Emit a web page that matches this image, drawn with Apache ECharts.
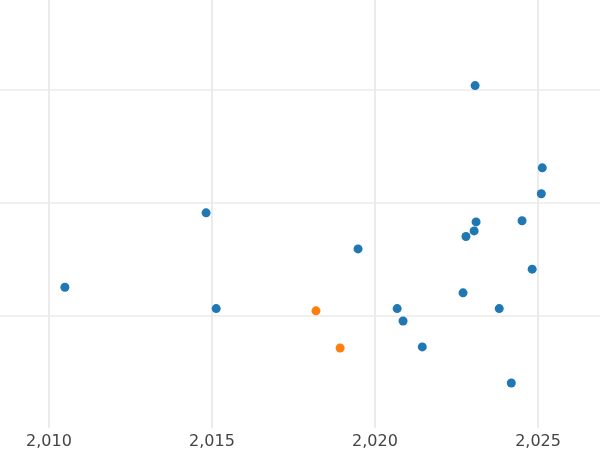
<!DOCTYPE html><html><head><meta charset="utf-8"><script src="https://cdn.jsdelivr.net/npm/echarts@6/dist/echarts.min.js"></script></head><body style="margin:0"><div id="c" style="width:600px;height:450px"></div><script>
const xTicks=[2010,2015,2020,2025];
const blue=[[2023.07,2.04],[2025.13,1.31],[2025.10,1.08],[2014.82,0.91],[2023.10,0.83],[2024.51,0.84],[2023.04,0.75],[2022.79,0.70],[2019.48,0.59],[2024.82,0.41],[2010.49,0.25],[2022.70,0.20],[2015.13,0.06],[2020.68,0.06],[2023.81,0.06],[2020.86,-0.05],[2021.45,-0.28],[2024.18,-0.60]];
const orange=[[2018.19,0.04],[2018.93,-0.29]];
const c=echarts.init(document.getElementById('c'));
c.setOption({animation:false,grid:{left:0,right:0,top:0,bottom:22},
xAxis:{type:'value',min:2008.5,max:2026.9,axisLine:{show:false},
 axisTick:{show:false,customValues:xTicks},
 axisLabel:{customValues:xTicks,color:'#444',fontSize:16,fontFamily:'DejaVu Sans',margin:6},
 splitLine:{show:true,lineStyle:{color:'#ebebeb',width:2}}},
yAxis:{type:'value',min:-1,max:2.8,interval:1,axisLine:{show:false},axisTick:{show:false},axisLabel:{show:false},
 splitLine:{lineStyle:{color:['rgba(0,0,0,0)','#ebebeb','#ebebeb','#ebebeb','rgba(0,0,0,0)'],width:1.5}}},
series:[{type:'scatter',data:blue,symbolSize:9,itemStyle:{color:'#1f77b4',opacity:1}},
{type:'scatter',data:orange,symbolSize:9,itemStyle:{color:'#ff7f0e',opacity:1}}]});
</script></body></html>
